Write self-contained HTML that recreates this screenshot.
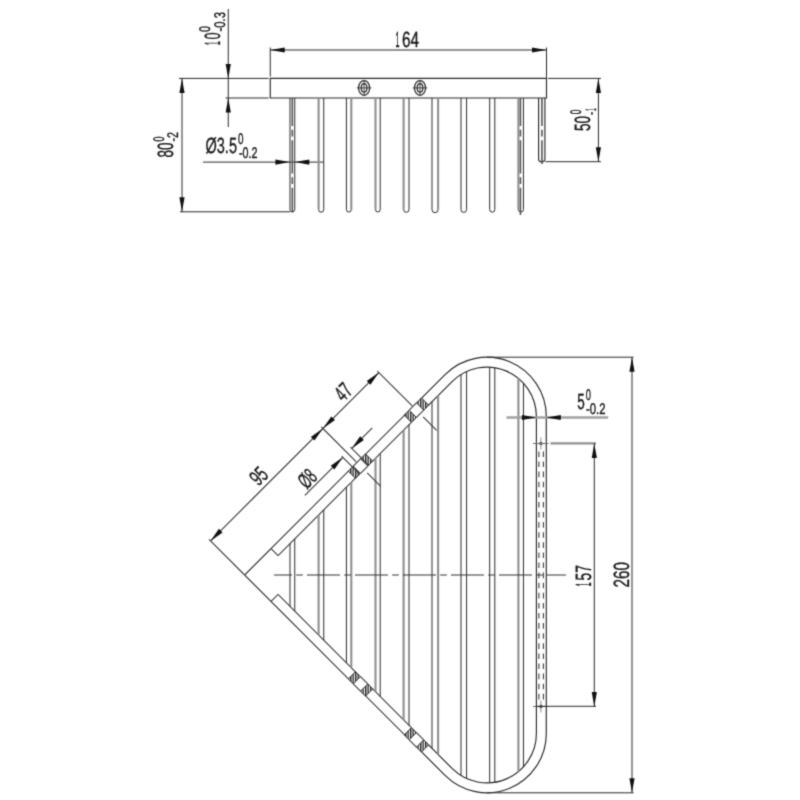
<!DOCTYPE html>
<html><head><meta charset="utf-8"><title>Drawing</title>
<style>
html,body{margin:0;padding:0;background:#fff;}
body{width:800px;height:800px;overflow:hidden;font-family:"Liberation Sans",sans-serif;}
svg{display:block;filter:grayscale(1);}
svg text{font-family:"Liberation Sans",sans-serif;text-rendering:geometricPrecision;}
</style></head><body>
<svg width="800" height="800" viewBox="0 0 800 800">
<defs><filter id="soft" filterUnits="userSpaceOnUse" x="0" y="0" width="800" height="800" color-interpolation-filters="sRGB"><feConvolveMatrix order="3" kernelMatrix="0.0256 0.1088 0.0256 0.1088 0.4624 0.1088 0.0256 0.1088 0.0256" divisor="1" edgeMode="duplicate" preserveAlpha="true"/></filter></defs>
<rect width="800" height="800" fill="#fff"/>
<g filter="url(#soft)">
<rect width="800" height="800" fill="#fff"/>
<path d="M270.25,78.4 H546.5 V98.0 H270.25 Z" stroke="#2a2a2a" stroke-width="1.15" fill="none" />
<line x1="179.00" y1="78.40" x2="268.60" y2="78.40" stroke="#2a2a2a" stroke-width="1" />
<line x1="225.50" y1="98.00" x2="268.60" y2="98.00" stroke="#2a2a2a" stroke-width="1" />
<line x1="270.25" y1="47.50" x2="270.25" y2="76.60" stroke="#2a2a2a" stroke-width="1" />
<line x1="546.50" y1="47.50" x2="546.50" y2="78.40" stroke="#2a2a2a" stroke-width="1" />
<line x1="548.00" y1="78.40" x2="601.00" y2="78.40" stroke="#2a2a2a" stroke-width="1" />
<line x1="270.25" y1="50.00" x2="546.50" y2="50.00" stroke="#2a2a2a" stroke-width="1" />
<polygon points="270.25,50.00 284.75,47.40 284.75,52.60" fill="#111"/>
<polygon points="546.50,50.00 532.00,52.60 532.00,47.40" fill="#111"/>
<line x1="228.25" y1="9.00" x2="228.25" y2="127.00" stroke="#2a2a2a" stroke-width="1" />
<polygon points="228.25,78.40 225.65,63.90 230.85,63.90" fill="#111"/>
<polygon points="228.25,98.00 230.85,112.50 225.65,112.50" fill="#111"/>
<line x1="182.00" y1="78.40" x2="182.00" y2="211.80" stroke="#2a2a2a" stroke-width="1" />
<polygon points="182.00,78.40 184.60,92.90 179.40,92.90" fill="#111"/>
<polygon points="182.00,211.80 179.40,197.30 184.60,197.30" fill="#111"/>
<line x1="180.00" y1="211.80" x2="290.00" y2="211.80" stroke="#2a2a2a" stroke-width="1" />
<line x1="203.00" y1="162.10" x2="323.60" y2="162.10" stroke="#2a2a2a" stroke-width="1" />
<polygon points="289.90,162.10 275.40,164.70 275.40,159.50" fill="#111"/>
<polygon points="294.80,162.10 309.30,159.50 309.30,164.70" fill="#111"/>
<line x1="598.40" y1="78.40" x2="598.40" y2="161.70" stroke="#2a2a2a" stroke-width="1" />
<polygon points="598.40,78.40 601.00,92.90 595.80,92.90" fill="#111"/>
<polygon points="598.40,161.70 595.80,147.20 601.00,147.20" fill="#111"/>
<line x1="545.50" y1="161.70" x2="601.00" y2="161.70" stroke="#2a2a2a" stroke-width="1" />
<line x1="290.00" y1="98.00" x2="290.00" y2="209.60" stroke="#2a2a2a" stroke-width="1" />
<line x1="294.75" y1="98.00" x2="294.75" y2="209.60" stroke="#2a2a2a" stroke-width="1" />
<path d="M290.00,209.6 A2.38,2.38 0 0 0 294.75,209.6" stroke="#2a2a2a" stroke-width="1" fill="none" />
<line x1="318.60" y1="98.00" x2="318.60" y2="209.60" stroke="#8f8f8f" stroke-width="2.1" />
<line x1="323.75" y1="98.00" x2="323.75" y2="209.60" stroke="#2a2a2a" stroke-width="1" />
<path d="M318.60,209.6 A2.57,2.57 0 0 0 323.75,209.6" stroke="#2a2a2a" stroke-width="1" fill="none" />
<line x1="346.40" y1="98.00" x2="346.40" y2="209.60" stroke="#2a2a2a" stroke-width="1" />
<line x1="351.30" y1="98.00" x2="351.30" y2="209.60" stroke="#8f8f8f" stroke-width="2.1" />
<path d="M346.40,209.6 A2.45,2.45 0 0 0 351.30,209.6" stroke="#2a2a2a" stroke-width="1" fill="none" />
<line x1="375.50" y1="98.00" x2="375.50" y2="209.60" stroke="#8f8f8f" stroke-width="2.1" />
<line x1="380.20" y1="98.00" x2="380.20" y2="209.60" stroke="#2a2a2a" stroke-width="1" />
<path d="M375.50,209.6 A2.35,2.35 0 0 0 380.20,209.6" stroke="#2a2a2a" stroke-width="1" fill="none" />
<line x1="403.60" y1="98.00" x2="403.60" y2="209.60" stroke="#8f8f8f" stroke-width="2.1" />
<line x1="409.00" y1="98.00" x2="409.00" y2="209.60" stroke="#2a2a2a" stroke-width="1" />
<path d="M403.60,209.6 A2.70,2.70 0 0 0 409.00,209.6" stroke="#2a2a2a" stroke-width="1" fill="none" />
<line x1="432.00" y1="98.00" x2="432.00" y2="209.60" stroke="#2a2a2a" stroke-width="1" />
<line x1="438.10" y1="98.00" x2="438.10" y2="209.60" stroke="#8f8f8f" stroke-width="2.1" />
<path d="M432.00,209.6 A3.05,3.05 0 0 0 438.10,209.6" stroke="#2a2a2a" stroke-width="1" fill="none" />
<line x1="461.00" y1="98.00" x2="461.00" y2="209.60" stroke="#2a2a2a" stroke-width="1" />
<line x1="466.60" y1="98.00" x2="466.60" y2="209.60" stroke="#2a2a2a" stroke-width="1" />
<path d="M461.00,209.6 A2.80,2.80 0 0 0 466.60,209.6" stroke="#2a2a2a" stroke-width="1" fill="none" />
<line x1="489.70" y1="98.00" x2="489.70" y2="209.60" stroke="#2a2a2a" stroke-width="1" />
<line x1="494.80" y1="98.00" x2="494.80" y2="209.60" stroke="#2a2a2a" stroke-width="1" />
<path d="M489.70,209.6 A2.55,2.55 0 0 0 494.80,209.6" stroke="#2a2a2a" stroke-width="1" fill="none" />
<line x1="518.40" y1="98.00" x2="518.40" y2="209.60" stroke="#8f8f8f" stroke-width="2.1" />
<line x1="523.45" y1="98.00" x2="523.45" y2="209.60" stroke="#2a2a2a" stroke-width="1" />
<path d="M518.40,209.6 A2.53,2.53 0 0 0 523.45,209.6" stroke="#2a2a2a" stroke-width="1" fill="none" />
<path d="M538.60,98.0 V159.2 A3.15,2.52 0 0 0 544.90,159.2 V98.0" stroke="#2a2a2a" stroke-width="1.15" fill="none" />
<line x1="292.35" y1="98.00" x2="292.35" y2="212.60" stroke="#555" stroke-width="1.6" stroke-dasharray="33.3 3.8 6.6 3.8" stroke-dashoffset="5.3"/>
<line x1="520.45" y1="98.00" x2="520.45" y2="215.00" stroke="#555" stroke-width="1.6" stroke-dasharray="33.3 3.8 6.6 3.8" stroke-dashoffset="5.3"/>
<line x1="541.95" y1="98.00" x2="541.95" y2="164.00" stroke="#555" stroke-width="1.6" stroke-dasharray="33.3 3.8 6.6 3.8" stroke-dashoffset="5.3"/>
<ellipse cx="364.1" cy="87.9" rx="5.5" ry="7.4" fill="none" stroke="#2a2a2a" stroke-width="1.25"/>
<ellipse cx="364.1" cy="87.9" rx="2.8" ry="4.3" fill="none" stroke="#2a2a2a" stroke-width="1.25"/>
<line x1="356.80" y1="87.90" x2="371.40" y2="87.90" stroke="#2a2a2a" stroke-width="0.9" />
<line x1="364.10" y1="79.90" x2="364.10" y2="95.90" stroke="#2a2a2a" stroke-width="0.9" />
<ellipse cx="420.0" cy="87.9" rx="5.5" ry="7.4" fill="none" stroke="#2a2a2a" stroke-width="1.25"/>
<ellipse cx="420.0" cy="87.9" rx="2.8" ry="4.3" fill="none" stroke="#2a2a2a" stroke-width="1.25"/>
<line x1="412.70" y1="87.90" x2="427.30" y2="87.90" stroke="#2a2a2a" stroke-width="0.9" />
<line x1="420.00" y1="79.90" x2="420.00" y2="95.90" stroke="#2a2a2a" stroke-width="0.9" />
<defs><pattern id="h" patternUnits="userSpaceOnUse" width="2.5" height="10"><rect x="0" y="0" width="1.4" height="10" fill="#222"/></pattern></defs>
<path d="M421.57,398.07 L445.07,374.57 A59.3,59.3 0 0 1 546.3,416.50 V575.0" stroke="#2a2a2a" stroke-width="1.15" fill="none" />
<path d="M428.57,405.07 L452.07,381.57 A49.4,49.4 0 0 1 536.4,416.50 V575.0" stroke="#2a2a2a" stroke-width="1.15" fill="none" />
<line x1="244.64" y1="575.00" x2="348.42" y2="471.22" stroke="#3c3c3c" stroke-width="1.1" />
<line x1="278.07" y1="555.57" x2="355.42" y2="478.22" stroke="#3c3c3c" stroke-width="1.1" />
<line x1="271.07" y1="548.57" x2="278.07" y2="555.57" stroke="#3c3c3c" stroke-width="1.1" />
<line x1="365.62" y1="454.02" x2="404.37" y2="415.27" stroke="#3c3c3c" stroke-width="1.1" />
<line x1="372.62" y1="461.02" x2="411.37" y2="422.27" stroke="#3c3c3c" stroke-width="1.1" />
<path d="M404.22,415.12 L409.17,410.17 L416.47,417.47 L411.52,422.42Z" stroke="#2a2a2a" stroke-width="1" fill="url(#h)" />
<path d="M416.47,402.87 L421.42,397.92 L428.72,405.22 L423.77,410.17Z" stroke="#2a2a2a" stroke-width="1" fill="url(#h)" />
<line x1="409.17" y1="410.17" x2="416.47" y2="402.87" stroke="#3c3c3c" stroke-width="1.1" />
<line x1="416.47" y1="417.47" x2="423.77" y2="410.17" stroke="#3c3c3c" stroke-width="1.1" />
<path d="M348.27,471.07 L353.22,466.12 L360.52,473.42 L355.57,478.37Z" stroke="#2a2a2a" stroke-width="1" fill="url(#h)" />
<path d="M360.52,458.82 L365.47,453.87 L372.77,461.17 L367.82,466.12Z" stroke="#2a2a2a" stroke-width="1" fill="url(#h)" />
<line x1="353.22" y1="466.12" x2="360.52" y2="458.82" stroke="#3c3c3c" stroke-width="1.1" />
<line x1="360.52" y1="473.42" x2="367.82" y2="466.12" stroke="#3c3c3c" stroke-width="1.1" />
<path d="M421.57,751.93 L445.07,775.43 A59.3,59.3 0 0 0 546.3,733.50 V575.0" stroke="#2a2a2a" stroke-width="1.15" fill="none" />
<path d="M428.57,744.93 L452.07,768.43 A49.4,49.4 0 0 0 536.4,733.50 V575.0" stroke="#2a2a2a" stroke-width="1.15" fill="none" />
<line x1="244.64" y1="575.00" x2="348.42" y2="678.78" stroke="#3c3c3c" stroke-width="1.1" />
<line x1="278.07" y1="594.43" x2="355.42" y2="671.78" stroke="#3c3c3c" stroke-width="1.1" />
<line x1="271.07" y1="601.43" x2="278.07" y2="594.43" stroke="#3c3c3c" stroke-width="1.1" />
<line x1="365.62" y1="695.98" x2="404.37" y2="734.73" stroke="#3c3c3c" stroke-width="1.1" />
<line x1="372.62" y1="688.98" x2="411.37" y2="727.73" stroke="#3c3c3c" stroke-width="1.1" />
<path d="M404.22,734.88 L409.17,739.83 L416.47,732.53 L411.52,727.58Z" stroke="#2a2a2a" stroke-width="1" fill="url(#h)" />
<path d="M416.47,747.13 L421.42,752.08 L428.72,744.78 L423.77,739.83Z" stroke="#2a2a2a" stroke-width="1" fill="url(#h)" />
<line x1="409.17" y1="739.83" x2="416.47" y2="747.13" stroke="#3c3c3c" stroke-width="1.1" />
<line x1="416.47" y1="732.53" x2="423.77" y2="739.83" stroke="#3c3c3c" stroke-width="1.1" />
<path d="M348.27,678.93 L353.22,683.88 L360.52,676.58 L355.57,671.63Z" stroke="#2a2a2a" stroke-width="1" fill="url(#h)" />
<path d="M360.52,691.18 L365.47,696.13 L372.77,688.83 L367.82,683.88Z" stroke="#2a2a2a" stroke-width="1" fill="url(#h)" />
<line x1="353.22" y1="683.88" x2="360.52" y2="691.18" stroke="#3c3c3c" stroke-width="1.1" />
<line x1="360.52" y1="676.58" x2="367.82" y2="683.88" stroke="#3c3c3c" stroke-width="1.1" />
<line x1="290.00" y1="543.64" x2="290.00" y2="606.36" stroke="#2a2a2a" stroke-width="1" />
<line x1="294.75" y1="538.89" x2="294.75" y2="611.11" stroke="#2a2a2a" stroke-width="1" />
<line x1="318.60" y1="515.04" x2="318.60" y2="634.96" stroke="#8f8f8f" stroke-width="2.1" />
<line x1="323.75" y1="509.89" x2="323.75" y2="640.11" stroke="#2a2a2a" stroke-width="1" />
<line x1="346.40" y1="487.24" x2="346.40" y2="662.76" stroke="#2a2a2a" stroke-width="1" />
<line x1="351.30" y1="482.34" x2="351.30" y2="667.66" stroke="#8f8f8f" stroke-width="2.1" />
<line x1="375.50" y1="458.14" x2="375.50" y2="691.86" stroke="#8f8f8f" stroke-width="2.1" />
<line x1="380.20" y1="453.44" x2="380.20" y2="696.56" stroke="#2a2a2a" stroke-width="1" />
<line x1="403.60" y1="430.04" x2="403.60" y2="719.96" stroke="#8f8f8f" stroke-width="2.1" />
<line x1="409.00" y1="424.64" x2="409.00" y2="725.36" stroke="#2a2a2a" stroke-width="1" />
<line x1="432.00" y1="401.64" x2="432.00" y2="748.36" stroke="#2a2a2a" stroke-width="1" />
<line x1="438.10" y1="395.54" x2="438.10" y2="754.46" stroke="#8f8f8f" stroke-width="2.1" />
<line x1="461.00" y1="374.50" x2="461.00" y2="775.50" stroke="#2a2a2a" stroke-width="1" />
<line x1="466.60" y1="371.51" x2="466.60" y2="778.49" stroke="#2a2a2a" stroke-width="1" />
<line x1="489.70" y1="367.17" x2="489.70" y2="782.83" stroke="#2a2a2a" stroke-width="1" />
<line x1="494.80" y1="367.72" x2="494.80" y2="782.28" stroke="#2a2a2a" stroke-width="1" />
<line x1="518.40" y1="378.36" x2="518.40" y2="771.64" stroke="#8f8f8f" stroke-width="2.1" />
<line x1="523.45" y1="383.16" x2="523.45" y2="766.84" stroke="#2a2a2a" stroke-width="1" />
<line x1="538.90" y1="451.40" x2="538.90" y2="702.00" stroke="#3a3a3a" stroke-width="1.1" stroke-dasharray="5.6 4.5"/>
<line x1="543.40" y1="451.40" x2="543.40" y2="702.00" stroke="#3a3a3a" stroke-width="1.1" stroke-dasharray="5.6 4.5"/>
<circle cx="540.9" cy="443.5" r="1.8" fill="#333"/>
<line x1="533.00" y1="443.50" x2="548.60" y2="443.50" stroke="#6a6a6a" stroke-width="1" />
<line x1="540.90" y1="437.50" x2="540.90" y2="449.50" stroke="#8a8a8a" stroke-width="1" />
<circle cx="540.9" cy="706.5" r="1.8" fill="#333"/>
<line x1="533.00" y1="706.50" x2="548.60" y2="706.50" stroke="#6a6a6a" stroke-width="1" />
<line x1="540.90" y1="700.50" x2="540.90" y2="712.50" stroke="#8a8a8a" stroke-width="1" />
<line x1="274.00" y1="575.00" x2="566.00" y2="575.00" stroke="#333" stroke-width="1.2" stroke-dasharray="33 4.2 6.6 4.2" stroke-dashoffset="15"/>
<line x1="550.50" y1="443.40" x2="596.00" y2="443.40" stroke="#8f8f8f" stroke-width="2.2" />
<line x1="536.00" y1="706.30" x2="596.00" y2="706.30" stroke="#2a2a2a" stroke-width="1" />
<line x1="594.30" y1="443.40" x2="594.30" y2="706.60" stroke="#2a2a2a" stroke-width="1" />
<polygon points="594.30,443.40 596.90,457.90 591.70,457.90" fill="#111"/>
<polygon points="594.30,706.60 591.70,692.10 596.90,692.10" fill="#111"/>
<line x1="487.00" y1="357.20" x2="633.60" y2="357.20" stroke="#2a2a2a" stroke-width="1" />
<line x1="487.00" y1="792.80" x2="633.60" y2="792.80" stroke="#2a2a2a" stroke-width="1" />
<line x1="632.00" y1="357.20" x2="632.00" y2="792.80" stroke="#2a2a2a" stroke-width="1" />
<polygon points="632.00,357.20 634.60,371.70 629.40,371.70" fill="#111"/>
<polygon points="632.00,792.80 629.40,778.30 634.60,778.30" fill="#111"/>
<line x1="506.50" y1="417.50" x2="608.20" y2="417.50" stroke="#a0a0a0" stroke-width="2.6" />
<polygon points="536.40,417.50 521.90,420.10 521.90,414.90" fill="#111"/>
<polygon points="546.30,417.50 560.80,414.90 560.80,420.10" fill="#111"/>
<line x1="210.52" y1="540.88" x2="378.85" y2="372.55" stroke="#3c3c3c" stroke-width="1.1" />
<polygon points="210.52,540.88 218.93,528.79 222.61,532.47" fill="#111"/>
<polygon points="322.90,428.50 314.49,440.59 310.81,436.91" fill="#111"/>
<polygon points="322.90,428.50 331.31,416.41 334.99,420.09" fill="#111"/>
<polygon points="378.85,372.55 370.44,384.64 366.76,380.96" fill="#111"/>
<line x1="209.02" y1="539.38" x2="244.64" y2="575.00" stroke="#3c3c3c" stroke-width="1.1" />
<line x1="377.35" y1="371.05" x2="412.22" y2="405.92" stroke="#3c3c3c" stroke-width="1.1" />
<line x1="423.15" y1="416.85" x2="436.65" y2="430.35" stroke="#3c3c3c" stroke-width="1.1" />
<line x1="321.40" y1="427.00" x2="356.27" y2="461.87" stroke="#3c3c3c" stroke-width="1.1" />
<line x1="367.20" y1="472.80" x2="380.70" y2="486.30" stroke="#3c3c3c" stroke-width="1.1" />
<line x1="341.60" y1="456.10" x2="359.57" y2="474.07" stroke="#3c3c3c" stroke-width="1.1" />
<line x1="350.50" y1="447.20" x2="368.47" y2="465.17" stroke="#3c3c3c" stroke-width="1.1" />
<line x1="304.85" y1="495.35" x2="342.85" y2="457.35" stroke="#3c3c3c" stroke-width="1.1" />
<polygon points="342.85,457.35 334.44,469.44 330.76,465.76" fill="#111"/>
<line x1="351.75" y1="448.45" x2="372.30" y2="427.90" stroke="#3c3c3c" stroke-width="1.1" />
<polygon points="351.75,448.45 360.16,436.36 363.84,440.04" fill="#111"/>
<text transform="translate(395.40,46.90) rotate(0) scale(0.326,1)" x="-0.00" y="0" font-size="22.07" fill="#1a1a1a" stroke="#1a1a1a" stroke-width="0.3">1</text>
<text transform="translate(402.00,46.90) rotate(0) scale(0.693,1)" x="-0.00" y="0" font-size="22.07" fill="#1a1a1a" stroke="#1a1a1a" stroke-width="0.4">64</text>
<text transform="translate(220.40,45.20) rotate(-90) scale(0.326,1)" x="-0.00" y="0" font-size="22.07" fill="#1a1a1a" stroke="#1a1a1a" stroke-width="0.3">1</text>
<text transform="translate(220.40,39.40) rotate(-90) scale(0.571,1)" x="-0.00" y="0" font-size="22.07" fill="#1a1a1a" stroke="#1a1a1a" stroke-width="0.4">0</text>
<text transform="translate(210.30,31.90) rotate(-90) scale(0.702,1)" x="-0.00" y="0" font-size="15.36" fill="#1a1a1a" stroke="#1a1a1a" stroke-width="0.4">0</text>
<text transform="translate(225.30,31.50) rotate(-90) scale(0.737,1)" x="-0.00" y="0" font-size="15.36" fill="#1a1a1a" stroke="#1a1a1a" stroke-width="0.4">-0.3</text>
<text transform="translate(173.40,157.60) rotate(-90) scale(0.611,1)" x="-0.00" y="0" font-size="22.07" fill="#1a1a1a" stroke="#1a1a1a" stroke-width="0.4">80</text>
<text transform="translate(164.00,141.60) rotate(-90) scale(0.585,1)" x="-0.00" y="0" font-size="15.36" fill="#1a1a1a" stroke="#1a1a1a" stroke-width="0.4">0</text>
<text transform="translate(178.30,141.50) rotate(-90) scale(0.696,1)" x="-0.00" y="0" font-size="15.36" fill="#1a1a1a" stroke="#1a1a1a" stroke-width="0.4">-2</text>
<text transform="translate(205.50,153.20) rotate(0) scale(0.658,1)" x="-0.00" y="0" font-size="22.07" fill="#1a1a1a" stroke="#1a1a1a" stroke-width="0.4">Ø3.5</text>
<text transform="translate(238.00,143.70) rotate(0) scale(0.644,1)" x="-0.00" y="0" font-size="15.36" fill="#1a1a1a" stroke="#1a1a1a" stroke-width="0.4">0</text>
<text transform="translate(239.00,158.00) rotate(0) scale(0.699,1)" x="-0.00" y="0" font-size="15.36" fill="#1a1a1a" stroke="#1a1a1a" stroke-width="0.4">-0.2</text>
<text transform="translate(589.90,130.90) rotate(-90) scale(0.611,1)" x="-0.00" y="0" font-size="22.07" fill="#1a1a1a" stroke="#1a1a1a" stroke-width="0.4">50</text>
<text transform="translate(580.90,114.20) rotate(-90) scale(0.550,1)" x="-0.00" y="0" font-size="15.36" fill="#1a1a1a" stroke="#1a1a1a" stroke-width="0.4">0</text>
<text transform="translate(595.50,114.90) rotate(-90) scale(0.625,1)" x="-0.00" y="0" font-size="15.36" fill="#1a1a1a" stroke="#1a1a1a" stroke-width="0.4">-</text>
<text transform="translate(595.50,110.98) rotate(-90) scale(0.326,1)" x="-0.00" y="0" font-size="15.36" fill="#1a1a1a" stroke="#1a1a1a" stroke-width="0.3">1</text>
<text transform="translate(577.30,409.10) rotate(0) scale(0.611,1)" x="-0.00" y="0" font-size="22.07" fill="#1a1a1a" stroke="#1a1a1a" stroke-width="0.4">5</text>
<text transform="translate(585.80,399.60) rotate(0) scale(0.609,1)" x="-0.00" y="0" font-size="15.36" fill="#1a1a1a" stroke="#1a1a1a" stroke-width="0.4">0</text>
<text transform="translate(586.00,413.70) rotate(0) scale(0.737,1)" x="-0.00" y="0" font-size="15.36" fill="#1a1a1a" stroke="#1a1a1a" stroke-width="0.4">-0.2</text>
<text transform="translate(591.25,586.60) rotate(-90) scale(0.326,1)" x="-0.00" y="0" font-size="22.07" fill="#1a1a1a" stroke="#1a1a1a" stroke-width="0.3">1</text>
<text transform="translate(591.25,580.40) rotate(-90) scale(0.628,1)" x="-0.00" y="0" font-size="22.07" fill="#1a1a1a" stroke="#1a1a1a" stroke-width="0.4">57</text>
<text transform="translate(628.75,587.50) rotate(-90) scale(0.696,1)" x="-0.00" y="0" font-size="22.07" fill="#1a1a1a" stroke="#1a1a1a" stroke-width="0.4">260</text>
<text transform="translate(343.28,402.59) rotate(-45) scale(0.611,1)" x="-0.00" y="0" font-size="22.07" fill="#1a1a1a" stroke="#1a1a1a" stroke-width="0.4">47</text>
<text transform="translate(258.51,486.87) rotate(-45) scale(0.632,1)" x="-0.00" y="0" font-size="22.07" fill="#1a1a1a" stroke="#1a1a1a" stroke-width="0.4">95</text>
<text transform="translate(306.65,489.82) rotate(-45) scale(0.561,1)" x="-0.00" y="0" font-size="22.07" fill="#1a1a1a" stroke="#1a1a1a" stroke-width="0.4">Ø8</text>
</g>
</svg>
</body></html>
